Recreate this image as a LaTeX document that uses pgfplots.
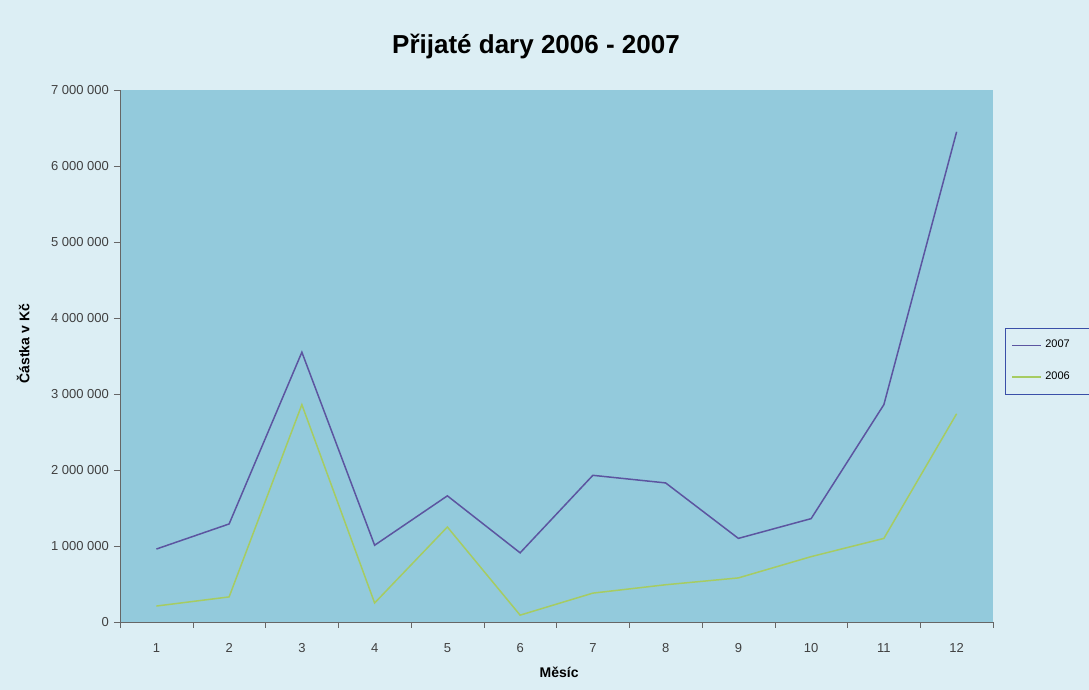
\documentclass[border=0pt]{standalone}
\usepackage{pgfplots}
\pgfplotsset{compat=1.18}
\usepackage{fontspec}
\setmainfont{Liberation Sans}
\definecolor{bgout}{HTML}{DCEEF4}
\definecolor{bgplot}{HTML}{93CADC}
\definecolor{c2007}{HTML}{5C55A0}
\definecolor{c2006}{HTML}{A6CC62}
\definecolor{legb}{HTML}{3A4FA8}
\begin{document}
\begin{tikzpicture}
\path[use as bounding box] (0,0) rectangle (544.5pt,345pt);
\clip (0,0) rectangle (544.5pt,345pt);
\fill[bgout] (0,0) rectangle (544.5pt,345pt);
\node[font=\fontsize{13}{15}\selectfont\bfseries] at (268pt,321.5pt) {Přijaté dary 2006 - 2007};
\begin{axis}[
  at={(60pt,34pt)}, anchor=south west,
  scale only axis, width=436.5pt, height=266pt,
  xmin=0.5, xmax=12.5, ymin=0, ymax=7000000,
  axis background/.style={fill=bgplot},
  axis x line*=bottom, axis y line*=left,
  axis line style={gray!80!black,-},
  xtick={1,...,12}, major x tick style={draw=none},
  minor xtick={0.5,1.5,...,12.5},
  minor x tick style={gray!80!black},
  minor tick length=3pt,
  ytick={0,1000000,...,7000000},
  yticklabels={0,1 000 000,2 000 000,3 000 000,4 000 000,5 000 000,6 000 000,7 000 000},
  major y tick style={gray!80!black},
  major tick length=3pt,
  tick align=outside,
  scaled y ticks=false,
  /pgf/number format/assume math mode=true,
  tick label style={font=\fontsize{6.5}{7}\selectfont, text=black!75},
  yticklabel style={xshift=1pt},
  xticklabel style={yshift=-4pt},
  xlabel={Měsíc}, ylabel={Částka v Kč},
  xlabel style={font=\fontsize{7}{8}\selectfont\bfseries, at={(axis description cs:0.503,-0.0945)}, anchor=center},
  ylabel style={font=\fontsize{7}{8}\selectfont\bfseries, at={(axis description cs:-0.111,0.523)}, anchor=center, rotate=0},
  legend style={at={(1.0137,0.427)}, anchor=south west, draw=legb, fill=bgout,
    font=\fontsize{5.5}{6}\selectfont, inner xsep=3pt, inner ysep=4pt,
    row sep=6.5pt, text width=20pt},
  legend cell align=left,
  legend image code/.code={\draw[#1] (0cm,0cm) -- (0.5cm,0cm);},
]
\addplot[c2007, line width=0.75pt] coordinates {
(1,960000) (2,1290000) (3,3550000) (4,1010000) (5,1660000) (6,910000)
(7,1930000) (8,1830000) (9,1100000) (10,1360000) (11,2860000) (12,6450000)};
\addlegendentry{2007}
\addplot[c2006, line width=0.75pt] coordinates {
(1,210000) (2,330000) (3,2860000) (4,250000) (5,1250000) (6,90000)
(7,380000) (8,490000) (9,580000) (10,860000) (11,1100000) (12,2740000)};
\addlegendentry{2006}
\end{axis}
\end{tikzpicture}
\end{document}
